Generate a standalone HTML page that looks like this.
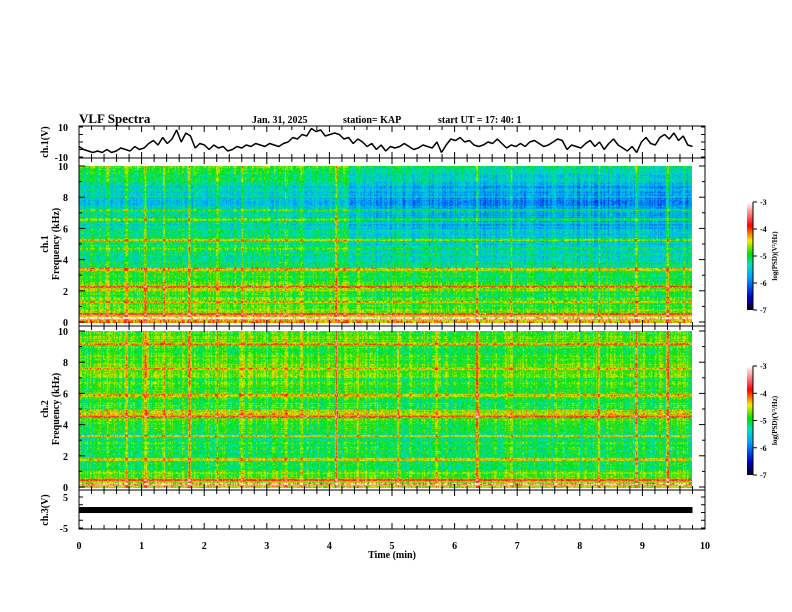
<!DOCTYPE html>
<html><head><meta charset="utf-8"><style>
body{margin:0;background:#fff;width:792px;height:612px;overflow:hidden;position:relative;font-family:"Liberation Serif",serif}
svg{position:absolute;left:0;top:0}
canvas{position:absolute}
text{font-family:"Liberation Serif",serif;font-weight:bold;font-size:10px}
</style></head><body>
<canvas id="spec1" width="613" height="157" style="left:79px;top:166px"></canvas>
<canvas id="spec2" width="613" height="157" style="left:79px;top:331px"></canvas>
<svg id="chart" width="792" height="612">
<defs>
<linearGradient id="cb" x1="0" y1="1" x2="0" y2="0">
<stop offset="0" stop-color="#000010"/><stop offset="0.12" stop-color="#0000c8"/><stop offset="0.3" stop-color="#00a0ff"/><stop offset="0.42" stop-color="#00e0c0"/><stop offset="0.52" stop-color="#00e000"/><stop offset="0.64" stop-color="#f0f000"/><stop offset="0.78" stop-color="#ff0000"/><stop offset="1" stop-color="#ffffff"/>
</linearGradient></defs>
<text x="79" y="123" style="font-size:13px">VLF Spectra</text>
<text x="252" y="123">Jan. 31, 2025</text>
<text x="343" y="123">station= KAP</text>
<text x="438" y="123">start UT =  17: 40: 1</text>
<g id="axes"></g>
</svg>
<script>
// ---- data ----
const timeTicks=[0,1,2,3,4,5,6,7,8,9,10];
const ch1Values=[-3,-5,-6,-7,-6,-7,-5,-7,-6,-4,-5,-6,-3,-5,-4,-1,1,-2,3,-1,2,8,0,6,4,-4,-1,-2,-5,-2,-4,-3,-6,-5,-3,-4,-2,-3,-1,-2,-3,-1,-2,-3,-1,0,3,2,5,4,9,7,8,4,5,6,5,2,3,-1,2,0,-3,-1,-5,-2,-6,-3,-4,-3,-1,-3,-5,-4,-2,-3,-4,0,-7,-2,2,1,3,0,1,-2,-3,-2,0,-1,2,-1,-4,-2,-3,-1,-3,0,1,-1,-3,-2,0,2,1,-5,-2,-3,-4,-1,1,-3,0,-5,-1,2,-2,-4,-6,-3,-7,0,3,-1,-2,3,5,2,6,1,4,-2,-3];
const ch3Value=[0.8];
const freqTicks=[0,2,4,6,8,10];
const ch1Bands=[-4.4,-4.8,-4.9,-5.0,-4.7,-5.0,-5.1,-5.3,-5.3,-5.2,-5.4,-5.5,-5.6,-5.7,-5.7,-5.8,-5.7,-5.6,-5.4,-5.2];
const ch2Bands=[-4.6,-4.8,-5.0,-5.1,-5.1,-5.0,-5.2,-5.1,-4.9,-4.6,-5.0,-5.1,-5.1,-5.0,-4.9,-4.9,-5.0,-5.0,-4.9,-4.8];
const segTimes=[0,4.3,5.4,7.8,9.8];
const ch1SegOffsets=[0.3,0.0,-0.05,-0.1];
const ch2SegOffsets=[0.1,0.05,0.0,0.05];
const streakTimes=[0.45,0.75,1.05,1.35,1.75,2.2,2.6,3.3,3.55,4.1,4.45,5.1,5.7,6.35,6.9,7.6,8.3,8.9,9.4,9.65];
const streakAmps=[0.6,0.7,1.2,0.6,1.3,0.7,0.6,0.5,0.6,1.2,0.6,0.6,0.5,1.3,0.7,0.6,0.6,1.1,1.1,0.6];
const ch1Lines=[0.3,0.55,1.3,2.3,3.4,5.3,6.6,7.2];
const ch1LineAmps=[1.3,1.0,0.7,0.8,0.7,0.9,0.8,0.6];
const ch2Lines=[0.25,0.5,1.8,3.3,4.5,5.9,7.6,9.2];
const ch2LineAmps=[1.3,1.0,0.7,0.7,0.8,0.8,0.7,0.7];
const cbTicks=[-3,-4,-5,-6,-7];

// ---- scales ----
const X0=79,XP=62.6;
const xs=t=>X0+t*XP;
const svg=document.getElementById('chart'),ax=document.getElementById('axes');
const NS='http://www.w3.org/2000/svg';
function el(tag,attrs,txt){const e=document.createElementNS(NS,tag);for(const k in attrs)e.setAttribute(k,attrs[k]);if(txt!==undefined)e.textContent=txt;ax.appendChild(e);return e;}

function hash(a,b){let h=(a*374761393+b*668265263)|0;h=(h^(h>>>13))*1274126177|0;return ((h^(h>>>16))>>>0)/4294967296;}
const stops=[[0,[0,0,16]],[0.12,[0,0,200]],[0.3,[0,160,255]],[0.42,[0,224,192]],[0.52,[0,224,0]],[0.64,[240,240,0]],[0.78,[255,0,0]],[1,[255,255,255]]];
function cmap(v){let t=(v+7)/4;t=Math.max(0,Math.min(1,t));for(let i=1;i<stops.length;i++){if(t<=stops[i][0]){const a=stops[i-1],b=stops[i];const f=(t-a[0])/(b[0]-a[0]);return a[1].map((c,k)=>c+(b[1][k]-c)*f);}}return [255,255,255];}

function drawSpec(id,bands,segOff,lines,lineAmps,seed){
  const c=document.getElementById(id),ctx=c.getContext('2d');const W=c.width,H=c.height;
  const img=ctx.createImageData(W,H);
  for(let y=0;y<H;y++){
    const f=10*(1-y/(H-1));const bi=Math.min(19,Math.floor(f/0.5));
    const rowN=(hash(y,seed)-0.5)*0.4;
    let lv=0;for(let k=0;k<lines.length;k++){const d=Math.abs(f-lines[k]);if(d<0.07)lv=Math.max(lv,lineAmps[k]);}
    for(let x=0;x<W;x++){
      const t=x/XP;let si=0;while(si<segOff.length-1&&t>=segTimes[si+1])si++;
      const upper=f>4.5?1:0.4;
      let v=bands[bi]+segOff[si]*upper+rowN;
      v+=(hash(x,seed+7)-0.5)*0.5+(hash(x*131+y,seed+3)-0.5)*0.5;
      for(let k=0;k<streakTimes.length;k++){const d=Math.abs(t-streakTimes[k])*XP;if(d<1.5)v+=streakAmps[k]*(1-d/2)*(0.6+0.4*hash(y>>3,k+seed));}
      v+=lv*(0.7+0.3*hash(x>>2,y));
      const col=cmap(v);const p=(y*W+x)*4;img.data[p]=col[0];img.data[p+1]=col[1];img.data[p+2]=col[2];img.data[p+3]=255;
    }
  }
  ctx.putImageData(img,0,0);
}
drawSpec('spec1',ch1Bands,ch1SegOffsets,ch1Lines,ch1LineAmps,11);
drawSpec('spec2',ch2Bands,ch2SegOffsets,ch2Lines,ch2LineAmps,29);

const panels=[[126,158],[158,326],[326,490],[490,529]];
panels.forEach((p,i)=>{
  const r=el('rect',{x:X0,y:p[0],width:626,height:p[1]-p[0],fill:'none',stroke:'#000','stroke-width':1});
  
  
  for(let k=0;k<=50;k++){const x=X0+k*0.2*XP;const L=k%5==0?6:4;
    el('line',{x1:x,x2:x,y1:p[0],y2:p[0]+L,stroke:'#000'});
    el('line',{x1:x,x2:x,y1:p[1],y2:p[1]-L,stroke:'#000'});}
});
timeTicks.forEach(t=>{const e=el('text',{x:xs(t),y:549,'text-anchor':'middle'},t);
  
  });
const xt=el('text',{x:392,y:558,'text-anchor':'middle'},'Time  (min)');



const y1=v=>142-v*1.5;
const n=ch1Values.length;
let d='';ch1Values.forEach((v,i)=>{d+=(i?'L':'M')+xs(i*9.8/(n-1)).toFixed(1)+','+y1(v).toFixed(1);});
const tr=el('path',{d:d,fill:'none',stroke:'#000','stroke-width':1.5,'stroke-linejoin':'bevel'});


[[10,'10'],[-10,'-10']].forEach(a=>{el('text',{x:68,y:y1(a[0])+4,'text-anchor':'end'},a[1]);});
for(let v=-10;v<=10;v+=5){el('line',{x1:X0,x2:X0+4,y1:y1(v),y2:y1(v),stroke:'#000'});el('line',{x1:705,x2:701,y1:y1(v),y2:y1(v),stroke:'#000'});}
const l1=el('text',{transform:'translate(48,142) rotate(-90)','text-anchor':'middle'},'ch.1(V)');



[[166,322,'ch.1'],[331,487,'ch.2']].forEach((s,si)=>{
  const fy=f=>s[1]-f*(s[1]-s[0])/10;
  freqTicks.forEach(f=>{el('text',{x:68,y:fy(f)+4,'text-anchor':'end'},f);});
  for(let f=0;f<=10;f+=1){const L=f%2==0?6:3;el('line',{x1:X0,x2:X0+L,y1:fy(f),y2:fy(f),stroke:'#000'});el('line',{x1:705,x2:705-L,y1:fy(f),y2:fy(f),stroke:'#000'});}
  const mid=(s[0]+s[1])/2;
  const a=el('text',{transform:`translate(48,${mid}) rotate(-90)`,'text-anchor':'middle'},s[2]);
  
  
  const b=el('text',{transform:`translate(59,${mid}) rotate(-90)`,'text-anchor':'middle'},'Frequency (kHz)');
  
  
  const top=si==0?202:366,bot=si==0?310:475;
  const cb=el('rect',{x:747,y:top,width:6,height:bot-top,fill:'url(#cb)'});
  
  
  el('line',{x1:753,x2:753,y1:top,y2:bot,stroke:'#000'});
  cbTicks.forEach(v=>{const y=top+(-3-v)*(bot-top)/4;el('line',{x1:753,x2:757,y1:y,y2:y,stroke:'#000'});
    el('text',{x:760,y:y+3,style:'font-size:8px'},v);});
  const ct=el('text',{transform:`translate(777,${(top+bot)/2}) rotate(-90)`,'text-anchor':'middle',style:'font-size:7px'},'log(PSD)(V²/Hz)');
  
  
});

const y3=v=>512.5-v*3.1;
[[5,'5'],[-5,'-5']].forEach(a=>{el('text',{x:68,y:y3(a[0])+4,'text-anchor':'end'},a[1]);});
for(let v=-5;v<=5;v+=2.5){el('line',{x1:X0,x2:X0+4,y1:y3(v),y2:y3(v),stroke:'#000'});el('line',{x1:705,x2:701,y1:y3(v),y2:y3(v),stroke:'#000'});}
const bar=el('rect',{x:X0,y:y3(ch3Value[0])-3,width:xs(9.8)-X0,height:6,fill:'#000'});


const l3=el('text',{transform:'translate(48,510) rotate(-90)','text-anchor':'middle'},'ch.3(V)');


</script>
</body></html>
